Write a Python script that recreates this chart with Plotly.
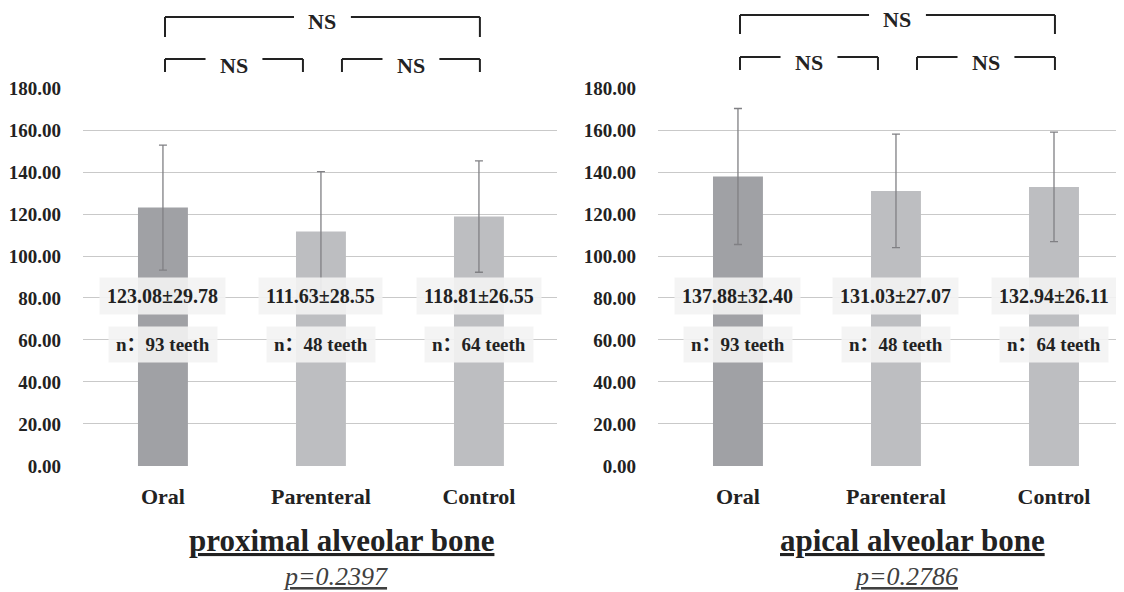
import plotly.graph_objects as go

# ---------------- data ----------------
categories = ["Oral", "Parenteral", "Control"]
proximal_mean = [123.08, 111.63, 118.81]
proximal_sd = [29.78, 28.55, 26.55]
apical_mean = [137.88, 131.03, 132.94]
apical_sd = [32.40, 27.07, 26.11]
n_teeth = [93, 48, 64]
y_ticks = [0, 20, 40, 60, 80, 100, 120, 140, 160, 180]
panel_titles = ["proximal alveolar bone", "apical alveolar bone"]
p_values = ["p=0.2397", "p=0.2786"]
sig_labels = ["NS", "NS", "NS"]  # top (Oral-Control), Oral-Parenteral, Parenteral-Control

# ---------------- style ----------------
OFF = 8                 # page body margin of the HTML page
W, H = 1124 - OFF, 592 - OFF
SERIF = "Liberation Serif, Times New Roman, serif"
SERIF_CJK = "Liberation Serif, Noto Sans CJK SC, serif"
TXT = "#222222"
bar_colors = ["#a0a1a5", "#bdbec1", "#bdbec1"]
GRID = "#c9c9c9"


def py(p):  # screen pixel y -> paper
    return 1 - (p - OFF) / H


def px(p):  # screen pixel x -> paper
    return min(1.0, (p - OFF) / W)


fig = go.Figure()

panels = [
    dict(mean=proximal_mean, sd=proximal_sd, xa="x", ya="y",
         dom=(83, 557), rng=[-0.506, 2.494], title_x=341, p_x=335,
         br=dict(top=(17, 37), low=(59, 72), ns=(21, 65))),
    dict(mean=apical_mean, sd=apical_sd, xa="x2", ya="y2",
         dom=(658, 1124), rng=[-0.506, 2.443], title_x=912, p_x=906,
         br=dict(top=(15, 34), low=(57, 70), ns=(19, 62))),
]

for i, pn in enumerate(panels):
    fig.add_trace(go.Bar(
        x=categories, y=pn["mean"], xaxis=pn["xa"], yaxis=pn["ya"],
        width=0.316, marker=dict(color=bar_colors, line=dict(width=0)),
        error_y=dict(type="data", array=pn["sd"], visible=True,
                     color="#808084", thickness=1.3, width=4),
        showlegend=False, hoverinfo="skip",
    ))

    xa_key = "xaxis" if i == 0 else "xaxis2"
    ya_key = "yaxis" if i == 0 else "yaxis2"
    fig.update_layout(**{
        xa_key: dict(domain=[px(pn["dom"][0]), px(pn["dom"][1])],
                     range=pn["rng"], anchor=pn["ya"], type="category",
                     automargin=False,
                     showgrid=False, showline=False, zeroline=False,
                     ticks="", ticklabelstandoff=15,
                     tickfont=dict(family=SERIF, size=22, color=TXT, weight="bold")),
        ya_key: dict(domain=[py(466), py(88)], range=[-0.05, 180.05],
                     anchor=pn["xa"], tickvals=y_ticks, tickformat=".2f",
                     automargin=False,
                     showgrid=True, gridcolor=GRID, gridwidth=1,
                     zeroline=False, showline=False, ticks="",
                     ticklabelstandoff=21,
                     tickfont=dict(family=SERIF, size=19, color=TXT, weight="bold")),
    })

    # value / n labels on the bars
    for j, cat in enumerate(categories):
        fig.add_annotation(
            x=cat, y=81, xref=pn["xa"], yref=pn["ya"], yanchor="middle",
            text=f"{pn['mean'][j]:.2f}±{pn['sd'][j]:.2f}",
            showarrow=False, bgcolor="rgba(243,243,243,0.9)", borderpad=7,
            font=dict(family=SERIF, size=20, color=TXT, weight="bold"))
        fig.add_annotation(
            x=cat, y=58, xref=pn["xa"], yref=pn["ya"], yanchor="middle",
            text=f"n\uff1a{n_teeth[j]} teeth",
            showarrow=False, bgcolor="rgba(243,243,243,0.9)", borderpad=7,
            font=dict(family=SERIF_CJK, size=19, color=TXT, weight="bold"))

    # significance brackets
    br = pn["br"]
    gap = 0.18
    specs = [
        (0.013, 2.006, br["top"], br["ns"][0], sig_labels[0]),
        (0.013, 0.886, br["low"], br["ns"][1], sig_labels[1]),
        (1.133, 2.006, br["low"], br["ns"][1], sig_labels[2]),
    ]
    for x0, x1, (yt, yb), yns, lab in specs:
        xm = (x0 + x1) / 2
        line = dict(color="#222222", width=2)
        for (a, b, c, d) in [(x0, yt, x0, yb), (x1, yt, x1, yb),
                             (x0, yt, xm - gap, yt), (xm + gap, yt, x1, yt)]:
            fig.add_shape(type="line", xref=pn["xa"], yref="paper",
                          x0=a, x1=c, y0=py(b), y1=py(d), line=line)
        fig.add_annotation(x=xm, y=py(yns), xref=pn["xa"], yref="paper",
                           xanchor="center", yanchor="middle",
                           text=lab, showarrow=False,
                           font=dict(family=SERIF, size=22, color=TXT, weight="bold"))

    # panel title and p-value
    fig.add_annotation(x=px(pn["title_x"]), y=py(540), xref="paper", yref="paper",
                       xanchor="center", yanchor="middle",
                       text=f"<u>{panel_titles[i]}</u>", showarrow=False,
                       font=dict(family=SERIF, size=31, color=TXT, weight="bold"))
    fig.add_annotation(x=px(pn["p_x"]), y=py(576), xref="paper", yref="paper",
                       xanchor="center", yanchor="middle",
                       text=f"<u><i>{p_values[i]}</i></u>", showarrow=False,
                       font=dict(family=SERIF, size=26, color="#404040"))

fig.update_layout(
    width=W, height=H, margin=dict(l=0, r=0, t=0, b=0, autoexpand=False),
    paper_bgcolor="white", plot_bgcolor="white",
    bargap=0.68,
)

fig.write_html("out.html")
